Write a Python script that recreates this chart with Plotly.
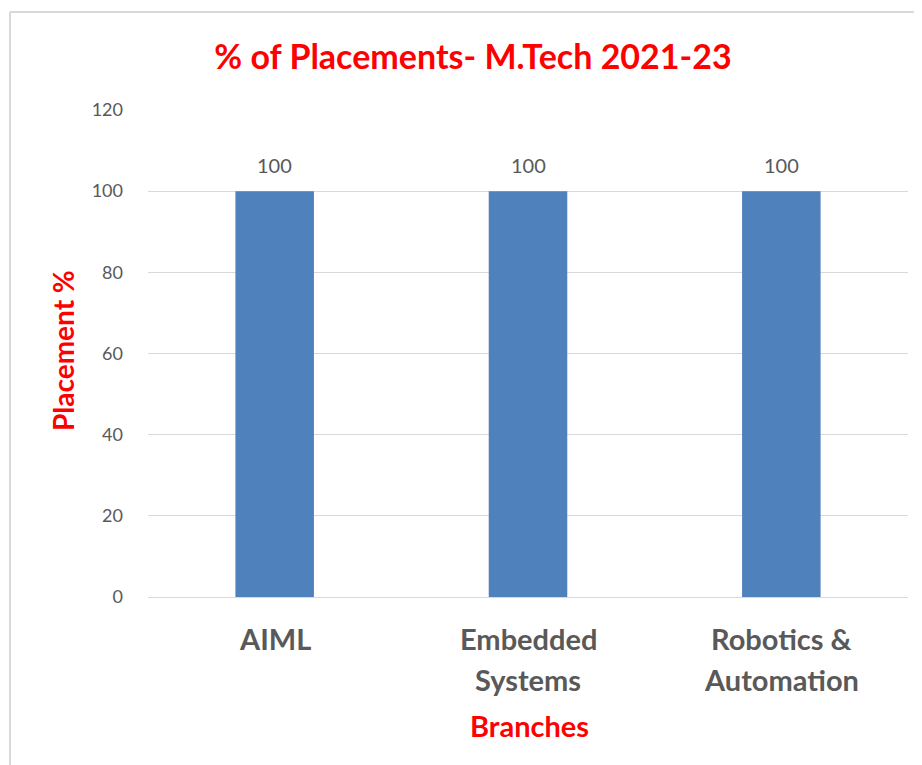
import plotly.graph_objects as go

categories = ["AIML", "Embedded Systems", "Robotics & Automation"]
label_line1 = ["AIML", "Embedded", "Robotics &"]
label_line2 = ["", "Systems", "Automation"]
placement = [100, 100, 100]
y_ticks = [0, 20, 40, 60, 80, 100, 120]

W, H = 922, 765
OFF = 8  # page body margin offset
L, R, T, B = 148 - OFF, 922 - 908 + OFF, 110 - OFF, 765 - 597 + OFF
plot_w = W - L - R
plot_h = H - T - B

def px_x(p):
    return (p - OFF - L) / plot_w

def px_y(p):
    return (H - B - (p - OFF)) / plot_h

GRAY = "#595959"
RED = "#ff0000"
FONT = "Lato"

fig = go.Figure()
fig.add_trace(go.Bar(
    x=categories, y=placement,
    marker=dict(color="#4f81bd", line=dict(width=0)),
    width=0.31,
    hoverinfo="x+y",
))

annotations = []
for c, v in zip(categories, placement):
    annotations.append(dict(x=c, y=v, xref="x", yref="y", text=str(v),
                            showarrow=False, yshift=26,
                            xanchor="center", yanchor="middle",
                            font=dict(family=FONT, size=20, color=GRAY)))
for c, l1, l2 in zip(categories, label_line1, label_line2):
    annotations.append(dict(x=c, y=0, xref="x", yref="y", text=f"<b>{l1}</b>",
                            showarrow=False, yshift=-41,
                            xanchor="center", yanchor="middle",
                            font=dict(family=FONT, size=29, color=GRAY)))
    if l2:
        annotations.append(dict(x=c, y=0, xref="x", yref="y", text=f"<b>{l2}</b>",
                                showarrow=False, yshift=-82,
                                xanchor="center", yanchor="middle",
                                font=dict(family=FONT, size=29, color=GRAY)))

annotations.append(dict(x=px_x(529), y=px_y(725), xref="paper", yref="paper",
                        text="<b>Branches</b>", showarrow=False,
                        xanchor="center", yanchor="middle",
                        font=dict(family=FONT, size=29, color=RED)))
annotations.append(dict(x=px_x(63), y=px_y(351), xref="paper", yref="paper",
                        text="<b>Placement %</b>", showarrow=False, textangle=-90,
                        xanchor="center", yanchor="middle",
                        font=dict(family=FONT, size=28, color=RED)))

fig.update_layout(
    width=W, height=H,
    margin=dict(l=L, r=R, t=T, b=B, autoexpand=False),
    paper_bgcolor="white", plot_bgcolor="white",
    title=dict(text="<b>% of Placements- M.Tech 2021-23</b>",
               x=(473 - OFF) / W, xanchor="center", xref="container",
               y=1 - (57 - OFF) / H, yanchor="middle", yref="container",
               font=dict(family=FONT, size=34, color=RED)),
    showlegend=False,
    annotations=annotations,
    shapes=[
        dict(type="line", xref="paper", yref="paper",
             x0=px_x(10), x1=px_x(935), y0=px_y(12), y1=px_y(12),
             line=dict(color="#d9d9d9", width=2)),
        dict(type="line", xref="paper", yref="paper",
             x0=px_x(10), x1=px_x(10), y0=px_y(12), y1=px_y(790),
             line=dict(color="#d9d9d9", width=2)),
    ],
)

fig.update_xaxes(showticklabels=False, showgrid=False, showline=False,
                 zeroline=False, ticks="")
fig.update_yaxes(range=[0, 120], tickvals=y_ticks, showgrid=True,
                 gridcolor="#d9d9d9", gridwidth=1, zeroline=True,
                 zerolinecolor="#d9d9d9", zerolinewidth=1, showline=False,
                 ticks="", ticklabelstandoff=24,
                 tickfont=dict(family=FONT, size=18, color=GRAY))

fig.write_html("out.html")
